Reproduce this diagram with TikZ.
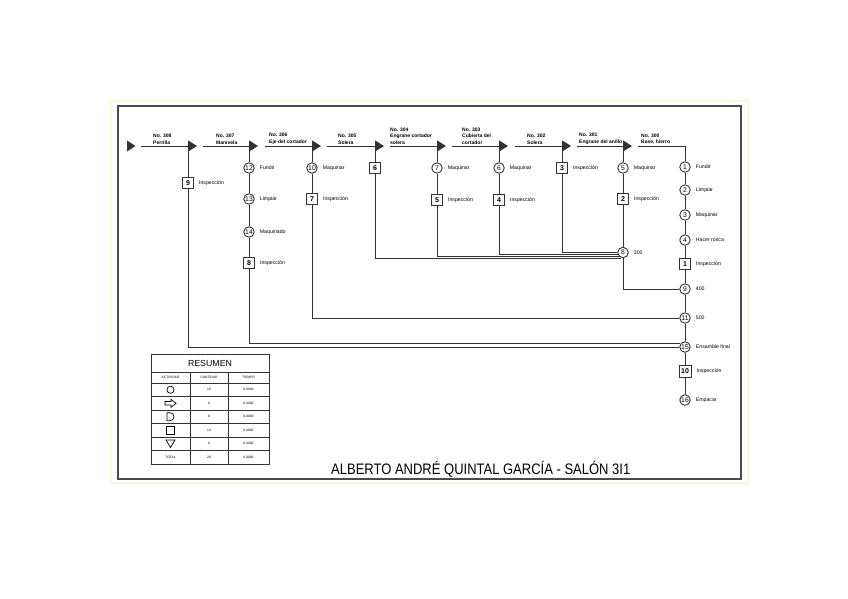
\documentclass[tikz,border=0pt]{standalone}
\usepackage{fontspec}
\setmainfont{Liberation Sans}
\usetikzlibrary{arrows.meta}
\definecolor{lnc}{HTML}{333333}
\definecolor{frm}{HTML}{4A4A4A}
\definecolor{pale}{HTML}{FFF3C6}
\tikzset{
 ln/.style={draw=lnc, line width=0.8pt},
 op/.style={circle, draw=lnc, line width=0.9pt, minimum size=10.5pt, inner sep=0pt, font=\fontsize{6.8}{7}\selectfont},
 insp/.style={rectangle, draw=lnc, line width=0.9pt, minimum size=11pt, inner sep=0pt, font=\bfseries\fontsize{7}{7}\selectfont},
 lbl/.style={anchor=west, xshift=5pt, inner sep=0pt, font=\fontsize{5.2}{6}\selectfont},
 hdr/.style={anchor=south west, inner sep=0pt, align=left, font=\bfseries\fontsize{5}{6.3}\selectfont},
 flowarr/.style={ln, -{Triangle[length=9pt,width=11pt]}, shorten >=-9pt},
 tcell/.style={inner sep=0pt, font=\fontsize{3.3}{4}\selectfont},
 tline/.style={draw=lnc, line width=0.7pt},
 sym/.style={draw=black, line width=0.7pt},
}
\begin{document}
\begin{tikzpicture}[x=1pt,y=-1pt]
\useasboundingbox (0,0) rectangle (848,599);
% frames
\draw[pale, line width=1pt] (110,101) rectangle (748,483);
\draw[frm, line width=1.3pt] (118,106) rectangle (741,479);

% flow coordinates
\coordinate (s1) at (141,146); \coordinate (j1) at (188,146);
\coordinate (s2) at (203,146); \coordinate (j2) at (249,146);
\coordinate (s3) at (265,146); \coordinate (j3) at (312,146);
\coordinate (s4) at (327,146); \coordinate (j4) at (375,146);
\coordinate (s5) at (390,146); \coordinate (j5) at (437,146);
\coordinate (s6) at (452,146); \coordinate (j6) at (499,146);
\coordinate (s7) at (515,146); \coordinate (j7) at (562,146);
\coordinate (s8) at (577,146); \coordinate (j8) at (623,146);
\coordinate (s9) at (638,146); \coordinate (jc) at (685,146);

% start marker
\fill[lnc] (127,140.5) -- (135.5,146) -- (127,151.5) -- cycle;

% headers
\node[hdr] (h1) at (153,144.5) {No. 308\\Perrilla};
\node[hdr] (h2) at (216,144.5) {No. 307\\Manivela};
\node[hdr] (h3) at (269,144.5) {No. 306\\Eje del cortador};
\node[hdr] (h4) at (338,144.5) {No. 305\\Solera};
\node[hdr] (h5) at (390,144.5) {No. 304\\Engrane cortador\\solera};
\node[hdr] (h6) at (462,144.5) {No. 303\\Cubierta del\\cortador};
\node[hdr] (h7) at (527,144.5) {No. 302\\Solera};
\node[hdr] (h8) at (579,144.5) {No. 301\\Engrane del anillo};
\node[hdr] (h9) at (641,144.5) {No. 300\\Base, hierro};

% nodes
\node[insp] (b9) at (188,183) {9};
\node[op] (c12) at (249,168) {12};
\node[op] (c13) at (249,199) {13};
\node[op] (c14) at (249,232) {14};
\node[insp] (b8) at (249,263) {8};
\node[op] (c10) at (312,168) {10};
\node[insp] (b7) at (312,199) {7};
\node[insp] (b6) at (375,168) {6};
\node[op] (c7) at (437,168) {7};
\node[insp] (b5) at (437,200) {5};
\node[op] (c6) at (499,168) {6};
\node[insp] (b4) at (499,200) {4};
\node[insp] (b3) at (562,168) {3};
\node[op] (c5) at (623,168) {5};
\node[insp] (b2) at (623,199) {2};
\node[op] (c8) at (623,252.5) {8};
\node[op] (c1) at (685,167) {1};
\node[op] (c2) at (685,190) {2};
\node[op] (c3) at (685,215) {3};
\node[op] (c4) at (685,240) {4};
\node[insp] (b1) at (685,264) {1};
\node[op] (c9) at (685,289) {9};
\node[op] (c11) at (685,318) {11};
\node[op] (c15) at (685,347) {15};
\node[insp, minimum size=12pt] (b10) at (685,371) {10};
\node[op] (c16) at (685,400) {16};

% activity labels
\node[lbl] (lb9) at (b9.east) {Inspección};
\node[lbl] (lc12) at (c12.east) {Fundir};
\node[lbl] (lc13) at (c13.east) {Limpiar};
\node[lbl] (lc14) at (c14.east) {Maquinado};
\node[lbl] (lb8) at (b8.east) {Inspección};
\node[lbl] (lc10) at (c10.east) {Maquinar};
\node[lbl] (lb7) at (b7.east) {Inspección};
\node[lbl] (lc7) at (c7.east) {Maquinar};
\node[lbl] (lb5) at (b5.east) {Inspección};
\node[lbl] (lc6) at (c6.east) {Maquinar};
\node[lbl] (lb4) at (b4.east) {Inspección};
\node[lbl] (lb3) at (b3.east) {Inspección};
\node[lbl] (lc5) at (c5.east) {Maquinar};
\node[lbl] (lb2) at (b2.east) {Inspección};
\node[lbl] (lc8) at (c8.east) {300};
\node[lbl] (lc1) at (c1.east) {Fundir};
\node[lbl] (lc2) at (c2.east) {Limpiar};
\node[lbl] (lc3) at (c3.east) {Maquinar};
\node[lbl] (lc4) at (c4.east) {Hacer rosca};
\node[lbl] (lb1) at (b1.east) {Inspección};
\node[lbl] (lc9) at (c9.east) {400};
\node[lbl] (lc11) at (c11.east) {500};
\node[lbl] (lc15) at (c15.east) {Ensamble final};
\node[lbl] (lb10) at (b10.east) {Inspección};
\node[lbl] (lc16) at (c16.east) {Empacar};

% top flow arrows
\draw[flowarr] (s1) -- (j1);
\draw[flowarr] (s2) -- (j2);
\draw[flowarr] (s3) -- (j3);
\draw[flowarr] (s4) -- (j4);
\draw[flowarr] (s5) -- (j5);
\draw[flowarr] (s6) -- (j6);
\draw[flowarr] (s7) -- (j7);
\draw[flowarr] (s8) -- (j8);

% branches
\draw[ln] (j1) -- (b9) |- (c15.west);
\draw[ln] (j2) -- (c12) -- (c13) -- (c14) -- (b8) |- (c15.147);
\draw[ln] (j3) -- (c10) -- (b7) |- (c11.west);
\draw[ln] (j4) -- (b6) |- (c8.254);
\draw[ln] (j5) -- (c7) -- (b5) |- (c8.218);
\draw[ln] (j6) -- (c6) -- (b4) |- (c8.195);
\draw[ln] (j7) -- (b3) |- (c8.175);
\draw[ln] (j8) -- (c5) -- (b2) -- (c8) |- (c9.west);
\draw[ln] (s9) -- (jc) -- (c1) -- (c2) -- (c3) -- (c4) -- (b1) -- (c9) -- (c11) -- (c15) -- (b10) -- (c16);

% summary table
\draw[tline] (151,354) rectangle (269,464);
\foreach \yy in {372,383,396.5,410,423.5,437,450.5} \draw[tline] (151,\yy) -- (269,\yy);
\draw[tline] (190,372) -- (190,464);
\draw[tline] (228,372) -- (228,464);
\node[inner sep=0pt, font=\fontsize{8.8}{9}\selectfont] (tres) at (210,363.5) {RESUMEN};
\node[tcell] (th1) at (170.5,377.5) {ACTIVIDAD};
\node[tcell] (th2) at (209,377.5) {CANTIDAD};
\node[tcell] (th3) at (248.5,377.5) {TIEMPO};
% symbols
\draw[sym] (170.5,389.75) circle[radius=3.6];
\draw[sym] (165,401.5) -- (171,401.5) -- (171,399.25) -- (176,403.25) -- (171,407.25) -- (171,405) -- (165,405) -- cycle;
\draw[sym] (167,412.75) -- (170,412.75) arc[start angle=-90,end angle=90,radius=4] -- (167,420.75) -- cycle;
\draw[sym] (166.5,426.25) rectangle (174.5,434.25);
\draw[sym] (166,440) -- (175,440) -- (170.5,447.5) -- cycle;
\node[tcell] (tt) at (170.5,457.25) {TOTAL};
% quantities
\node[tcell] (q1) at (209,389.75) {16};
\node[tcell] (q2) at (209,403.25) {0};
\node[tcell] (q3) at (209,416.75) {0};
\node[tcell] (q4) at (209,430.25) {10};
\node[tcell] (q5) at (209,443.75) {0};
\node[tcell] (q6) at (209,457.25) {26};
% times
\node[tcell] (t1) at (248.5,389.75) {0.0000};
\node[tcell] (t2) at (248.5,403.25) {0.0000};
\node[tcell] (t3) at (248.5,416.75) {0.0000};
\node[tcell] (t4) at (248.5,430.25) {0.0000};
\node[tcell] (t5) at (248.5,443.75) {0.0000};
\node[tcell] (t6) at (248.5,457.25) {0.0000};

% title
\node[anchor=base west, inner sep=0pt, font=\fontsize{13}{14}\selectfont] (title) at (331,474) {\scalebox{1}[1.17]{ALBERTO ANDRÉ QUINTAL GARCÍA - SALÓN 3I1}};
\end{tikzpicture}
\end{document}
